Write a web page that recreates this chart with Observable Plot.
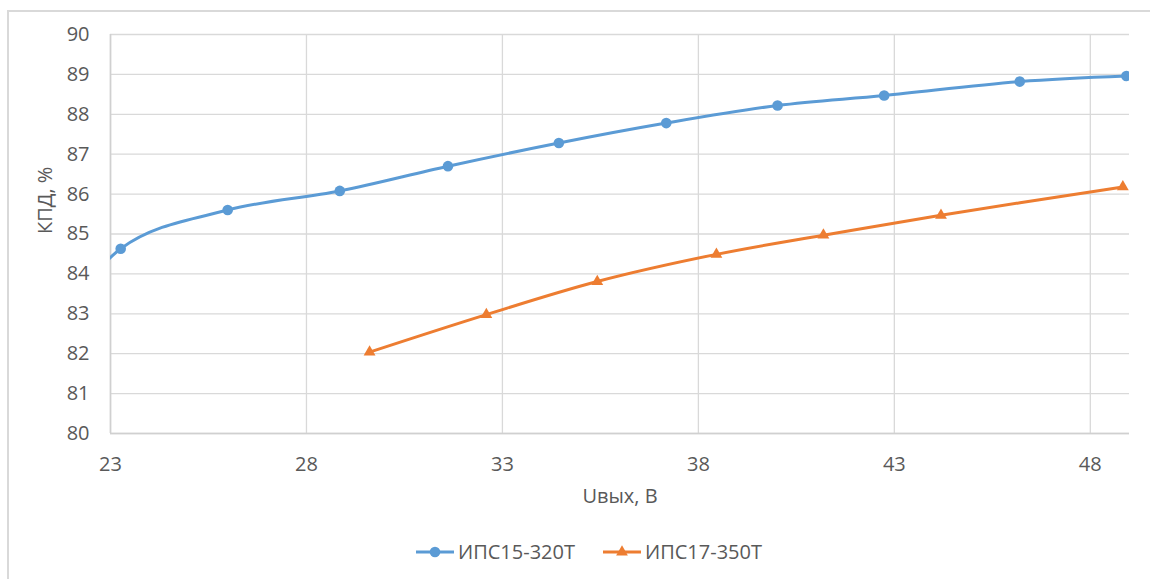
<!DOCTYPE html>
<html>
<head>
<meta charset="utf-8">
<script src="https://cdn.jsdelivr.net/npm/d3@7"></script>
<script src="https://cdn.jsdelivr.net/npm/@observablehq/plot@0.6"></script>
<style>
  html, body { margin: 0; padding: 0; background: #fff; overflow: hidden; width: 1150px; height: 579px; }
  #frame { position: absolute; left: 7px; top: 10px; width: 1200px; height: 700px; border: 2px solid #d9d9d9; box-sizing: border-box; }
  #chart { position: absolute; left: 0; top: 0; }
  #legend { position: absolute; left: 416px; top: 538px; display: flex; align-items: center; font-family: "Open Sans", sans-serif; font-size: 20px; color: #595959; }
  .item { display: flex; align-items: center; margin-right: 28px; }
  .item svg { margin-right: 4px; }
</style>
</head>
<body>
<div id="frame"></div>
<div id="chart"></div>
<div id="legend"></div>
<script>
// Series names
const seriesNames = ["ИПС15-320Т", "ИПС17-350Т"];
// ИПС15-320Т (first value lies left of the visible axis; clipped)
const uA = [20.5, 23.26, 25.99, 28.85, 31.61, 34.44, 37.18, 40.02, 42.74, 46.20, 48.92];
const effA = [81.0, 84.63, 85.60, 86.08, 86.70, 87.28, 87.78, 88.22, 88.47, 88.82, 88.96];
// ИПС17-350Т
const uB = [29.61, 32.59, 35.42, 38.46, 41.19, 44.19, 48.83];
const effB = [82.04, 82.98, 83.81, 84.49, 84.97, 85.47, 86.18];
// Axes
const xTicks = [23, 28, 33, 38, 43, 48];
const yTicks = [80, 81, 82, 83, 84, 85, 86, 87, 88, 89, 90];
const xLabel = "Uвых, В";
const yLabel = "КПД, %";
const colors = ["#5b9bd5", "#ed7d31"];

const dataA = uA.map((u, i) => ({u, e: effA[i]}));
const dataB = uB.map((u, i) => ({u, e: effB[i]}));

const chart = Plot.plot({
  width: 1150,
  height: 520,
  marginLeft: 110,
  marginRight: 21,
  marginTop: 34,
  marginBottom: 87,
  style: {fontFamily: "'Open Sans', sans-serif", fontSize: "20px", color: "#595959", background: "transparent"},
  x: {domain: [23, 49]},
  y: {domain: [80, 90]},
  marks: [
    Plot.gridX(xTicks, {stroke: "#d9d9d9", strokeOpacity: 1, strokeWidth: 1.3}),
    Plot.gridY(yTicks, {stroke: "#d9d9d9", strokeOpacity: 1, strokeWidth: 1.3}),
    Plot.ruleY([80], {stroke: "#d0d0d0", strokeWidth: 1.6}),
    Plot.ruleX([23], {stroke: "#d0d0d0", strokeWidth: 1.6}),
    Plot.axisX({ticks: xTicks, tickSize: 0, tickPadding: 23, fontSize: 20, label: null, fill: "#595959"}),
    Plot.axisY({ticks: yTicks, tickSize: 0, tickPadding: 21, fontSize: 20, label: null, fill: "#595959"}),
    Plot.text([xLabel], {frameAnchor: "bottom", dy: 63, lineAnchor: "middle", fontSize: 20, fill: "#595959"}),
    Plot.text([yLabel], {frameAnchor: "left", dx: -65, rotate: -90, lineAnchor: "middle", fontSize: 20, fill: "#595959"}),
    Plot.line(dataA, {x: "u", y: "e", curve: "catmull-rom", stroke: colors[0], strokeWidth: 3, clip: true}),
    Plot.line(dataB, {x: "u", y: "e", curve: "catmull-rom", stroke: colors[1], strokeWidth: 3, clip: true}),
    Plot.dot(dataA, {x: "u", y: "e", r: 5.3, fill: colors[0], stroke: "none", clip: true}),
    Plot.dot(dataB, {x: "u", y: "e", r: 4.4, symbol: "triangle", fill: colors[1], stroke: "none"})
  ]
});
document.getElementById("chart").appendChild(chart);

// Legend
const legend = document.getElementById("legend");
seriesNames.forEach((name, i) => {
  const item = document.createElement("div");
  item.className = "item";
  const marker = i === 0
    ? `<circle cx="19" cy="10" r="5.3" fill="${colors[0]}"/>`
    : `<path d="${d3.symbol(d3.symbolTriangle, 60)()}" transform="translate(19,10)" fill="${colors[1]}"/>`;
  item.innerHTML = `<svg width="38" height="20"><line x1="0" y1="10" x2="38" y2="10" stroke="${colors[i]}" stroke-width="3"/>${marker}</svg><span>${name}</span>`;
  legend.appendChild(item);
});
</script>
</body>
</html>
